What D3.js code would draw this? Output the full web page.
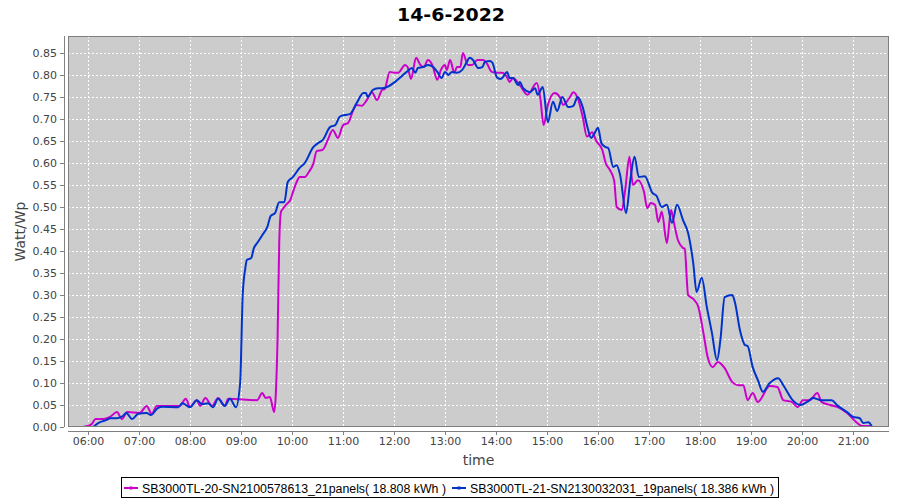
<!DOCTYPE html>
<html>
<head>
<meta charset="utf-8">
<script src="https://cdn.jsdelivr.net/npm/d3@7"></script>
<style>
  body { margin: 0; background: #ffffff; }
  svg { display: block; }
</style>
</head>
<body>
<svg id="chart" width="900" height="500"></svg>
<script>
// ---------------- DATA ----------------
const chartTitle = "14-6-2022";
const xAxisTitle = "time";
const yAxisTitle = "Watt/Wp";
const seriesNames = [
  "SB3000TL-20-SN2100578613_21panels( 18.808 kWh )",
  "SB3000TL-21-SN2130032031_19panels( 18.386 kWh )"
];
const xTickLabels = ["06:00","07:00","08:00","09:00","10:00","11:00","12:00","13:00","14:00","15:00","16:00","17:00","18:00","19:00","20:00","21:00"];
const yTickValues = [0.00,0.05,0.10,0.15,0.20,0.25,0.30,0.35,0.40,0.45,0.50,0.55,0.60,0.65,0.70,0.75,0.80,0.85];

const magentaTimes = ["05:54","06:04","06:09","06:18","06:26","06:34","06:40","06:46","07:01","07:09","07:15","07:21","07:48","07:55","08:00","08:08","08:12","08:18","08:26","08:33","08:41","08:45","09:19","09:25","09:29","09:34","09:39","09:41","09:43","09:45","09:47","09:49","09:54","09:58","10:02","10:06","10:09","10:15","10:20","10:25","10:29","10:36","10:42","10:48","10:54","11:00","11:06","11:12","11:16","11:22","11:28","11:34","11:40","11:46","11:49","11:55","12:01","12:05","12:13","12:16","12:20","12:26","12:31","12:35","12:40","12:45","12:51","12:55","13:00","13:02","13:06","13:11","13:14","13:18","13:21","13:27","13:32","13:38","13:45","13:49","13:55","14:01","14:07","14:13","14:16","14:20","14:28","14:37","14:48","14:52","14:56","15:01","15:09","15:15","15:19","15:27","15:31","15:36","15:42","15:47","15:53","15:58","16:05","16:09","16:14","16:19","16:22","16:28","16:32","16:37","16:41","16:47","16:54","16:58","17:02","17:07","17:11","17:15","17:21","17:26","17:28","17:34","17:40","17:42","17:46","17:52","17:58","18:04","18:09","18:15","18:21","18:29","18:38","18:45","18:51","18:56","19:02","19:08","19:22","19:31","19:38","19:48","19:55","20:01","20:09","20:18","20:23","20:33","20:42","20:53","21:05","21:11","21:20"];
const magentaValues = [0.000,0.006,0.018,0.018,0.023,0.034,0.018,0.034,0.032,0.048,0.030,0.048,0.048,0.064,0.046,0.061,0.048,0.066,0.048,0.066,0.048,0.064,0.061,0.077,0.066,0.068,0.034,0.077,0.200,0.420,0.489,0.495,0.507,0.516,0.539,0.559,0.568,0.568,0.580,0.598,0.627,0.630,0.652,0.675,0.657,0.686,0.691,0.720,0.732,0.730,0.743,0.761,0.743,0.766,0.768,0.807,0.805,0.805,0.823,0.818,0.791,0.839,0.823,0.818,0.834,0.823,0.789,0.811,0.823,0.811,0.834,0.805,0.818,0.818,0.850,0.823,0.823,0.834,0.834,0.827,0.807,0.805,0.805,0.795,0.784,0.793,0.777,0.755,0.782,0.750,0.686,0.732,0.759,0.750,0.732,0.750,0.761,0.748,0.705,0.660,0.670,0.650,0.630,0.600,0.584,0.560,0.500,0.493,0.539,0.614,0.550,0.561,0.535,0.497,0.509,0.505,0.466,0.489,0.418,0.493,0.477,0.425,0.407,0.405,0.300,0.291,0.273,0.214,0.159,0.136,0.148,0.134,0.102,0.095,0.095,0.061,0.077,0.057,0.093,0.091,0.061,0.057,0.045,0.061,0.061,0.077,0.057,0.050,0.045,0.032,0.009,0.002,0.002];

const blueTimes = ["06:06","06:14","06:22","06:26","06:34","06:41","06:45","06:52","06:59","07:09","07:14","07:22","07:28","07:46","07:51","08:00","08:08","08:14","08:21","08:27","08:33","08:41","08:47","08:54","08:59","09:02","09:05","09:07","09:12","09:15","09:19","09:25","09:31","09:35","09:40","09:45","09:51","09:55","10:01","10:09","10:15","10:25","10:33","10:36","10:45","10:51","10:56","11:02","11:08","11:16","11:24","11:27","11:29","11:35","11:41","11:46","12:15","12:21","12:25","12:28","12:34","12:40","12:46","12:51","12:56","13:00","13:04","13:08","13:14","13:20","13:25","13:29","13:33","13:39","13:44","13:47","13:53","13:56","14:01","14:05","14:08","14:13","14:16","14:20","14:26","14:28","14:32","14:40","14:46","14:49","14:55","15:01","15:07","15:12","15:18","15:25","15:31","15:36","15:42","15:47","15:52","15:56","16:00","16:04","16:09","16:12","16:18","16:22","16:26","16:33","16:38","16:43","16:48","16:55","17:04","17:09","17:15","17:21","17:27","17:33","17:40","17:46","17:52","17:56","18:02","18:08","18:14","18:20","18:24","18:29","18:38","18:41","18:47","18:53","18:56","19:02","19:08","19:14","19:22","19:32","19:38","19:49","19:58","20:06","20:13","20:23","20:35","20:41","20:53","21:00","21:08","21:12","21:18","21:22"];
const blueValues = [0.000,0.011,0.016,0.020,0.020,0.025,0.032,0.018,0.030,0.032,0.027,0.043,0.046,0.045,0.054,0.045,0.061,0.052,0.054,0.045,0.064,0.048,0.064,0.045,0.100,0.300,0.360,0.380,0.384,0.406,0.418,0.436,0.455,0.480,0.486,0.511,0.511,0.557,0.568,0.589,0.600,0.636,0.648,0.652,0.682,0.686,0.705,0.709,0.711,0.736,0.759,0.759,0.750,0.766,0.770,0.770,0.807,0.816,0.805,0.816,0.818,0.823,0.818,0.807,0.793,0.807,0.800,0.807,0.805,0.811,0.827,0.839,0.834,0.816,0.818,0.830,0.832,0.827,0.795,0.791,0.795,0.807,0.793,0.793,0.777,0.784,0.770,0.761,0.770,0.755,0.773,0.693,0.739,0.718,0.750,0.727,0.730,0.750,0.727,0.686,0.657,0.668,0.680,0.645,0.636,0.634,0.591,0.595,0.573,0.486,0.561,0.614,0.568,0.570,0.532,0.525,0.500,0.505,0.464,0.505,0.470,0.441,0.373,0.307,0.339,0.273,0.214,0.152,0.198,0.295,0.300,0.284,0.220,0.186,0.184,0.136,0.107,0.080,0.100,0.111,0.095,0.061,0.050,0.057,0.066,0.061,0.061,0.050,0.034,0.023,0.020,0.009,0.011,0.002];

const seriesColors = ["#cc00cc", "#0033cc"];

// ---------------- LAYOUT ----------------
const plot = { left: 68, top: 36, right: 889, bottom: 427 };
const parseHM = d3.timeParse("%H:%M");
const parseHMS = d3.timeParse("%H:%M:%S");

const x = d3.scaleTime()
  .domain([parseHMS("05:36:28"), parseHMS("21:42:21")])
  .range([plot.left, plot.right]);
const y = d3.scaleLinear()
  .domain([0, (plot.bottom - plot.top) / 440])
  .range([plot.bottom, plot.top]);

const svg = d3.select("#chart");
const font = "'DejaVu Sans', Verdana, sans-serif";

// title
svg.append("text")
  .attr("x", 451).attr("y", 21)
  .attr("text-anchor", "middle")
  .attr("font-family", font)
  .attr("font-weight", "bold")
  .attr("font-size", 18)
  .attr("textLength", 108)
  .attr("lengthAdjust", "spacingAndGlyphs")
  .attr("fill", "#000")
  .text(chartTitle);

// plot background
svg.append("rect")
  .attr("x", plot.left).attr("y", plot.top)
  .attr("width", plot.right - plot.left).attr("height", plot.bottom - plot.top)
  .attr("fill", "#cccccc");

const xTicks = xTickLabels.map(parseHM);

// gridlines
const grid = svg.append("g").attr("stroke", "#ffffff").attr("stroke-width", 1)
  .attr("stroke-dasharray", "2,2");
grid.selectAll("line.v").data(xTicks).enter().append("line")
  .attr("x1", d => Math.round(x(d)) + 0.5).attr("x2", d => Math.round(x(d)) + 0.5)
  .attr("y1", plot.top).attr("y2", plot.bottom);
grid.selectAll("line.h").data(yTickValues).enter().append("line")
  .attr("x1", plot.left).attr("x2", plot.right)
  .attr("y1", d => Math.round(y(d)) + 0.5).attr("y2", d => Math.round(y(d)) + 0.5);

// series
const line = d3.line()
  .x(d => x(d.t)).y(d => y(d.v))
  .curve(d3.curveMonotoneX);

const series = [
  magentaTimes.map((t, i) => ({ t: parseHM(t), v: magentaValues[i] })),
  blueTimes.map((t, i) => ({ t: parseHM(t), v: blueValues[i] }))
];

svg.append("defs").append("clipPath").attr("id", "clip")
  .append("rect").attr("x", plot.left).attr("y", plot.top)
  .attr("width", plot.right - plot.left).attr("height", plot.bottom - plot.top);

const lines = svg.append("g").attr("clip-path", "url(#clip)");
series.forEach((s, i) => {
  lines.append("path")
    .datum(s)
    .attr("fill", "none")
    .attr("stroke", seriesColors[i])
    .attr("stroke-width", 2)
    .attr("stroke-linejoin", "round")
    .attr("d", line);
});

// plot outline
svg.append("rect")
  .attr("x", plot.left + 0.5).attr("y", plot.top + 0.5)
  .attr("width", plot.right - plot.left - 1).attr("height", plot.bottom - plot.top - 1)
  .attr("fill", "none").attr("stroke", "#808080").attr("stroke-width", 1);

// axes
const yAxis = d3.axisLeft(y).tickValues(yTickValues).tickFormat(d3.format(".2f"))
  .tickSizeInner(4).tickSizeOuter(0).tickPadding(3);
const yg = svg.append("g").attr("transform", `translate(${plot.left - 4},0)`).call(yAxis);

const xAxis = d3.axisBottom(x).tickValues(xTicks).tickFormat(d3.timeFormat("%H:%M"))
  .tickSizeInner(4).tickSizeOuter(0).tickPadding(2);
const xg = svg.append("g").attr("transform", `translate(0,${plot.bottom + 4})`).call(xAxis);

[yg, xg].forEach(g => {
  g.select(".domain").attr("stroke", "#808080");
  g.selectAll(".tick line").attr("stroke", "#808080");
  g.selectAll(".tick text").attr("fill", "#444444")
    .attr("font-family", font).attr("font-size", 11);
});
xg.select(".domain").attr("d", `M${plot.left},0.5H${plot.right}`);
yg.select(".domain").attr("d", `M0.5,${plot.top}V${plot.bottom}`);

// axis titles
svg.append("text")
  .attr("x", (plot.left + plot.right) / 2).attr("y", 465)
  .attr("text-anchor", "middle")
  .attr("font-family", font).attr("font-size", 14)
  .attr("fill", "#444444")
  .text(xAxisTitle);

svg.append("text")
  .attr("transform", `translate(25,${(plot.top + plot.bottom) / 2}) rotate(-90)`)
  .attr("text-anchor", "middle")
  .attr("font-family", font).attr("font-size", 14)
  .attr("fill", "#444444")
  .text(yAxisTitle);

// legend
const legend = svg.append("g");
legend.append("rect")
  .attr("x", 121.5).attr("y", 477.5).attr("width", 657).attr("height", 20)
  .attr("fill", "#ffffff").attr("stroke", "#000000").attr("stroke-width", 1);

const legendItems = [
  { sx: 124, tx: 142 },
  { sx: 452, tx: 470 }
];
seriesNames.forEach((name, i) => {
  const it = legendItems[i];
  legend.append("line")
    .attr("x1", it.sx).attr("x2", it.sx + 14)
    .attr("y1", 488).attr("y2", 488)
    .attr("stroke", seriesColors[i]).attr("stroke-width", 2);
  legend.append("rect")
    .attr("x", it.sx + 5.5).attr("y", 486.5).attr("width", 3).attr("height", 3)
    .attr("fill", seriesColors[i]);
  legend.append("text")
    .attr("x", it.tx).attr("y", 492.5)
    .attr("font-family", "'Liberation Sans', Arial, sans-serif")
    .attr("font-size", 12.5)
    .attr("textLength", 304)
    .attr("lengthAdjust", "spacingAndGlyphs")
    .attr("fill", "#000000")
    .text(name);
});
</script>
</body>
</html>
